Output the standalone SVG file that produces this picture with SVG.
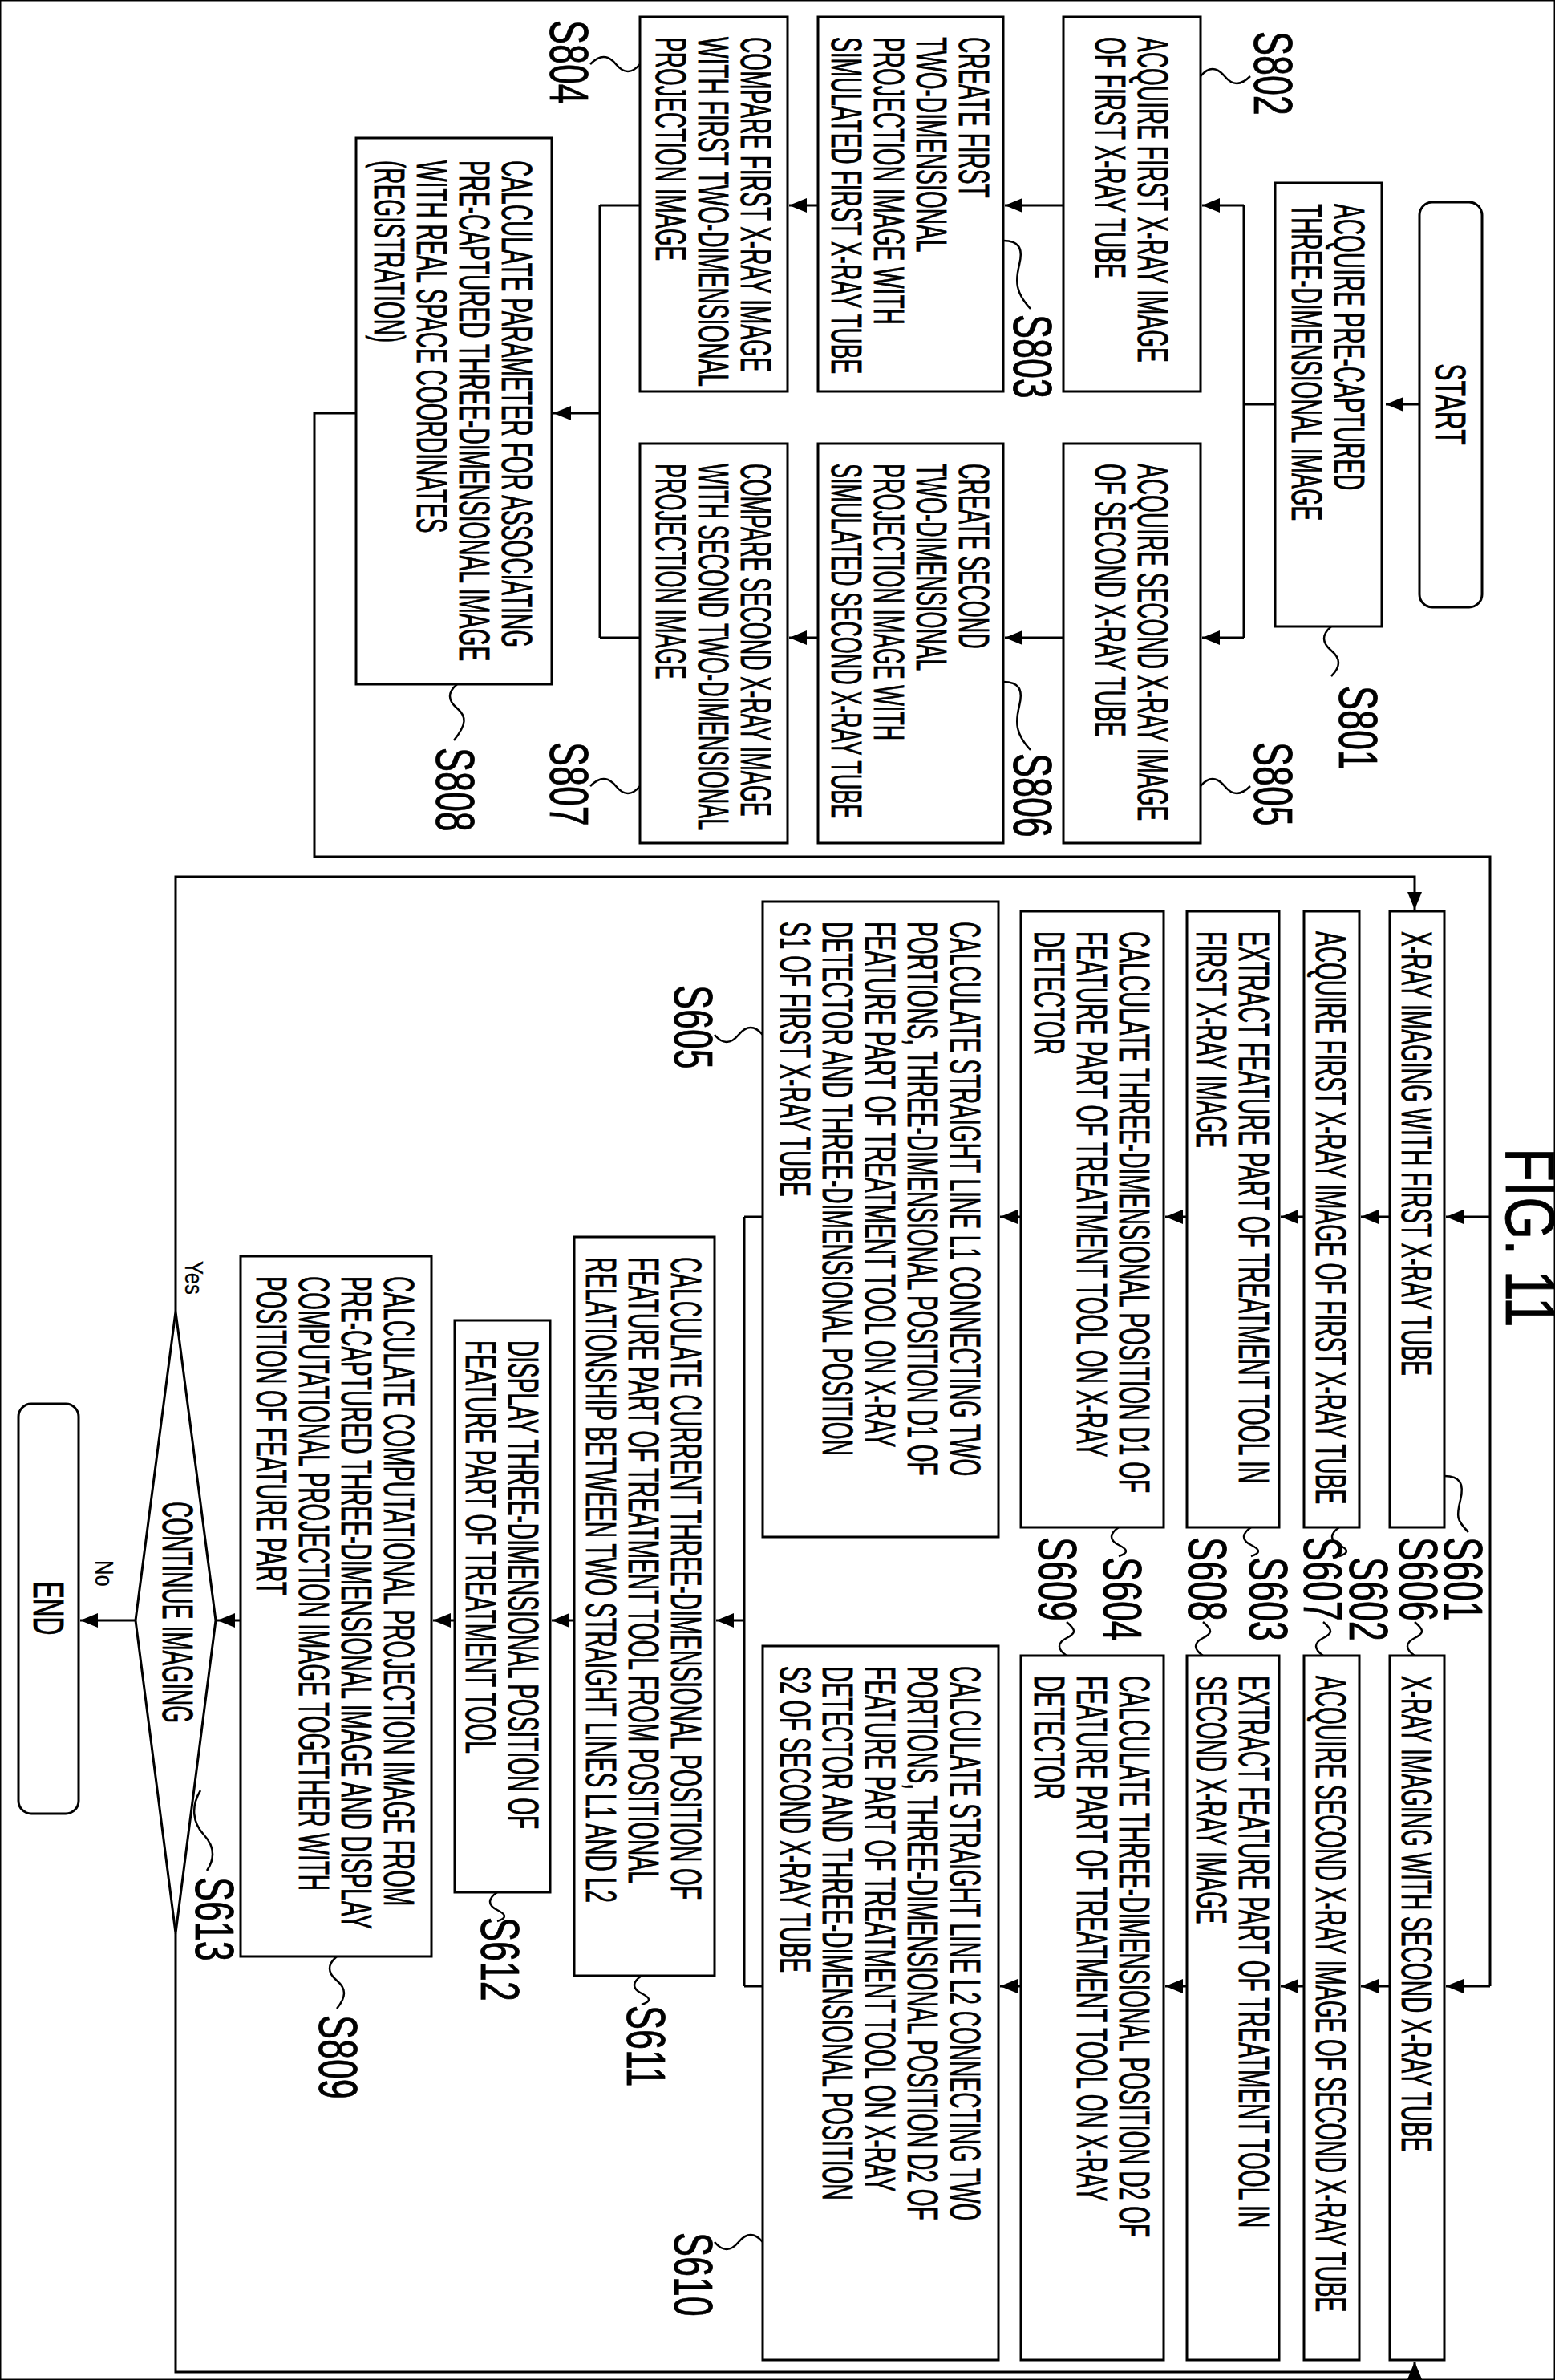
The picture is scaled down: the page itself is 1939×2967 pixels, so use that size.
<svg xmlns="http://www.w3.org/2000/svg" width="1939" height="2967" viewBox="0 0 1939 2967">
<defs>
<marker id="ah" markerUnits="userSpaceOnUse" markerWidth="24" markerHeight="18" refX="22" refY="9" orient="auto"><path d="M0,0 L22,9 L0,18 Z" fill="#000"/></marker>
<style>
rect,polygon{fill:#fff;stroke:#000;stroke-width:3}
.c{fill:none;stroke:#000;stroke-width:3}
.a{fill:none;stroke:#000;stroke-width:3;marker-end:url(#ah)}
.sq{fill:none;stroke:#000;stroke-width:2.5}
text{font-family:"Liberation Sans",Arial,sans-serif;font-size:53px;fill:#000;stroke:#000;stroke-width:0.8}
.l{font-size:68px}
.f{font-size:88px}
.s{font-size:32px;stroke-width:0.3}
.m{text-anchor:middle}
</style>
</defs>
<rect width="1939" height="2967" fill="#fff" stroke="none"/>
<g id="connectors">
<path class="a" d="M1776,504 H1728"/>
<path class="c" d="M1595,504 H1551 M1551,256 V795"/>
<path class="a" d="M1551,256 H1499"/>
<path class="a" d="M1551,795 H1499"/>
<path class="a" d="M1326,256 H1253"/>
<path class="a" d="M1326,795 H1253"/>
<path class="a" d="M1020,256 H984"/>
<path class="a" d="M1020,795 H984"/>
<path class="c" d="M798,256 H748 M798,795 H748 M748,256 V795"/>
<path class="a" d="M748,515 H690"/>
<path class="c" d="M444,515 H392 V1068 H1858 V2476"/>
<path class="a" d="M1858,1517 H1803"/>
<path class="a" d="M1858,2476 H1803"/>
<path class="a" d="M1733,1517 H1697"/>
<path class="a" d="M1733,2476 H1697"/>
<path class="a" d="M1626,1517 H1597"/>
<path class="a" d="M1626,2476 H1597"/>
<path class="a" d="M1480,1517 H1453"/>
<path class="a" d="M1480,2476 H1453"/>
<path class="a" d="M1273,1517 H1247"/>
<path class="a" d="M1273,2476 H1247"/>
<path class="c" d="M951,1517 H928 M951,2476 H928 M928,1517 V2476"/>
<path class="a" d="M928,2020 H893"/>
<path class="a" d="M716,2020 H688"/>
<path class="a" d="M567,2020 H540"/>
<path class="a" d="M300,2020 H271"/>
<path class="a" d="M169,2020 H100"/>
<path class="a" d="M219,1635 V1093 H1764 V1134"/>
<path class="a" d="M219,2410 V2957 H1764 V2944"/>
<path class="sq" d="M1660,781 c-12,10 -12,20 0,30 s12,20 0,32"/>
<path class="sq" d="M1497,95 c10,-12 20,-12 30,0 s20,12 32,0"/>
<path class="sq" d="M1497,980 c10,-12 20,-12 30,0 s20,12 32,0"/>
<path class="sq" d="M1251,300 c20,0 25,10 20,30 s-5,35 14,55"/>
<path class="sq" d="M1251,850 c20,0 25,10 20,30 s-5,35 14,55"/>
<path class="sq" d="M798,80 c-10,12 -20,12 -30,0 s-20,-12 -32,0"/>
<path class="sq" d="M798,980 c-10,12 -20,12 -30,0 s-20,-12 -32,0"/>
<path class="sq" d="M570,853 c-12,10 -12,20 0,30 s12,20 -4,40"/>
<path class="sq" d="M1801,1840 c20,0 25,10 20,30 s-5,25 10,40"/>
<path class="sq" d="M1764,2064 c-12,-8 -12,-16 0,-22 s12,-10 0,-20"/>
<path class="sq" d="M1670,1904 c-12,8 -12,16 0,22 s12,10 0,14"/>
<path class="sq" d="M1650,2064 c-12,-8 -12,-16 0,-22 s12,-10 0,-20"/>
<path class="sq" d="M1560,1904 c-12,8 -12,16 0,22 s12,10 0,14"/>
<path class="sq" d="M1500,2064 c-12,-8 -12,-16 0,-22 s12,-10 0,-20"/>
<path class="sq" d="M1395,1904 c-12,8 -12,16 0,22 s12,10 0,14"/>
<path class="sq" d="M1330,2064 c-12,-8 -12,-16 0,-22 s12,-10 0,-20"/>
<path class="sq" d="M951,1290 c-10,-12 -20,-12 -30,0 s-20,12 -30,0"/>
<path class="sq" d="M951,2795 c-10,-12 -20,-12 -30,0 s-20,12 -30,0"/>
<path class="sq" d="M800,2463 c-12,8 -12,16 0,22 s12,10 0,14"/>
<path class="sq" d="M620,2359 c-12,8 -12,16 0,22 s12,10 0,14"/>
<path class="sq" d="M420,2439 c-12,10 -12,20 0,30 s12,20 0,35"/>
<path class="sq" d="M250,2232 c-12,20 -10,40 4,55 s14,30 4,45"/>
</g>
<g id="START"><rect x="1770" y="252" width="78" height="505" rx="16"/><text class="m" transform="translate(1790,504) rotate(90) scale(0.6,1)">START</text></g>
<g id="S801"><rect x="1590" y="228" width="133" height="553"/>
<text transform="translate(1664,254) rotate(90) scale(0.53,1)">ACQUIRE PRE-CAPTURED</text>
<text transform="translate(1611,254) rotate(90) scale(0.53,1)">THREE-DIMENSIONAL IMAGE</text>
<text class="l" transform="translate(1670,855) rotate(90) scale(0.66,1)">S801</text></g>
<g id="S802"><rect x="1326" y="21" width="171" height="467"/>
<text transform="translate(1419,46) rotate(90) scale(0.53,1)">ACQUIRE FIRST X-RAY IMAGE</text>
<text transform="translate(1366,46) rotate(90) scale(0.53,1)">OF FIRST X-RAY TUBE</text>
<text class="l" transform="translate(1564,39) rotate(90) scale(0.66,1)">S802</text></g>
<g id="S805"><rect x="1326" y="553" width="171" height="498"/>
<text transform="translate(1419,578) rotate(90) scale(0.53,1)">ACQUIRE SECOND X-RAY IMAGE</text>
<text transform="translate(1366,578) rotate(90) scale(0.53,1)">OF SECOND X-RAY TUBE</text>
<text class="l" transform="translate(1564,925) rotate(90) scale(0.66,1)">S805</text></g>
<g id="S803"><rect x="1020" y="21" width="231" height="467"/>
<text transform="translate(1196,46) rotate(90) scale(0.53,1)">CREATE FIRST</text>
<text transform="translate(1143,46) rotate(90) scale(0.53,1)">TWO-DIMENSIONAL</text>
<text transform="translate(1090,46) rotate(90) scale(0.53,1)">PROJECTION IMAGE WITH</text>
<text transform="translate(1037,46) rotate(90) scale(0.53,1)">SIMULATED FIRST X-RAY TUBE</text>
<text class="l" transform="translate(1264,392) rotate(90) scale(0.66,1)">S803</text></g>
<g id="S806"><rect x="1020" y="553" width="231" height="498"/>
<text transform="translate(1196,578) rotate(90) scale(0.51,1)">CREATE SECOND</text>
<text transform="translate(1143,578) rotate(90) scale(0.51,1)">TWO-DIMENSIONAL</text>
<text transform="translate(1090,578) rotate(90) scale(0.51,1)">PROJECTION IMAGE WITH</text>
<text transform="translate(1037,578) rotate(90) scale(0.51,1)">SIMULATED SECOND X-RAY TUBE</text>
<text class="l" transform="translate(1264,939) rotate(90) scale(0.66,1)">S806</text></g>
<g id="S804"><rect x="798" y="21" width="184" height="467"/>
<text transform="translate(924,46) rotate(90) scale(0.53,1)">COMPARE FIRST X-RAY IMAGE</text>
<text transform="translate(871,46) rotate(90) scale(0.53,1)">WITH FIRST TWO-DIMENSIONAL</text>
<text transform="translate(818,46) rotate(90) scale(0.53,1)">PROJECTION IMAGE</text>
<text class="l" transform="translate(686,25) rotate(90) scale(0.66,1)">S804</text></g>
<g id="S807"><rect x="798" y="553" width="184" height="498"/>
<text transform="translate(924,578) rotate(90) scale(0.51,1)">COMPARE SECOND X-RAY IMAGE</text>
<text transform="translate(871,578) rotate(90) scale(0.51,1)">WITH SECOND TWO-DIMENSIONAL</text>
<text transform="translate(818,578) rotate(90) scale(0.51,1)">PROJECTION IMAGE</text>
<text class="l" transform="translate(686,925) rotate(90) scale(0.66,1)">S807</text></g>
<g id="S808"><rect x="444" y="172" width="244" height="681"/>
<text transform="translate(626,200) rotate(90) scale(0.53,1)">CALCULATE PARAMETER FOR ASSOCIATING</text>
<text transform="translate(573,200) rotate(90) scale(0.53,1)">PRE-CAPTURED THREE-DIMENSIONAL IMAGE</text>
<text transform="translate(520,200) rotate(90) scale(0.53,1)">WITH REAL SPACE COORDINATES</text>
<text transform="translate(467,200) rotate(90) scale(0.53,1)">(REGISTRATION)</text>
<text class="l" transform="translate(544,932) rotate(90) scale(0.66,1)">S808</text></g>
<g id="FIG"><text class="f" transform="translate(1878,1431) rotate(90) scale(0.78,1)">FIG. 11</text></g>
<g id="S601"><rect x="1733" y="1136" width="68" height="768"/>
<text transform="translate(1748,1161) rotate(90) scale(0.53,1)">X-RAY IMAGING WITH FIRST X-RAY TUBE</text>
<text class="l" transform="translate(1801,1916) rotate(90) scale(0.66,1)">S601</text></g>
<g id="S606"><rect x="1733" y="2064" width="68" height="878"/>
<text transform="translate(1748,2089) rotate(90) scale(0.53,1)">X-RAY IMAGING WITH SECOND X-RAY TUBE</text>
<text class="l" transform="translate(1745,1916) rotate(90) scale(0.66,1)">S606</text></g>
<g id="S602"><rect x="1626" y="1136" width="69" height="768"/>
<text transform="translate(1641,1161) rotate(90) scale(0.53,1)">ACQUIRE FIRST X-RAY IMAGE OF FIRST X-RAY TUBE</text>
<text class="l" transform="translate(1683,1941) rotate(90) scale(0.66,1)">S602</text></g>
<g id="S607"><rect x="1626" y="2064" width="69" height="878"/>
<text transform="translate(1641,2089) rotate(90) scale(0.53,1)">ACQUIRE SECOND X-RAY IMAGE OF SECOND X-RAY TUBE</text>
<text class="l" transform="translate(1626,1916) rotate(90) scale(0.66,1)">S607</text></g>
<g id="S603"><rect x="1480" y="1136" width="115" height="768"/>
<text transform="translate(1545,1161) rotate(90) scale(0.53,1)">EXTRACT FEATURE PART OF TREATMENT TOOL IN</text>
<text transform="translate(1492,1161) rotate(90) scale(0.53,1)">FIRST X-RAY IMAGE</text>
<text class="l" transform="translate(1558,1941) rotate(90) scale(0.66,1)">S603</text></g>
<g id="S608"><rect x="1480" y="2064" width="115" height="878"/>
<text transform="translate(1545,2089) rotate(90) scale(0.53,1)">EXTRACT FEATURE PART OF TREATMENT TOOL IN</text>
<text transform="translate(1492,2089) rotate(90) scale(0.53,1)">SECOND X-RAY IMAGE</text>
<text class="l" transform="translate(1482,1916) rotate(90) scale(0.66,1)">S608</text></g>
<g id="S604"><rect x="1273" y="1136" width="178" height="768"/>
<text transform="translate(1396,1161) rotate(90) scale(0.53,1)">CALCULATE THREE-DIMENSIONAL POSITION D1 OF</text>
<text transform="translate(1343,1161) rotate(90) scale(0.53,1)">FEATURE PART OF TREATMENT TOOL ON X-RAY</text>
<text transform="translate(1290,1161) rotate(90) scale(0.53,1)">DETECTOR</text>
<text class="l" transform="translate(1376,1941) rotate(90) scale(0.66,1)">S604</text></g>
<g id="S609"><rect x="1273" y="2064" width="178" height="878"/>
<text transform="translate(1396,2089) rotate(90) scale(0.53,1)">CALCULATE THREE-DIMENSIONAL POSITION D2 OF</text>
<text transform="translate(1343,2089) rotate(90) scale(0.53,1)">FEATURE PART OF TREATMENT TOOL ON X-RAY</text>
<text transform="translate(1290,2089) rotate(90) scale(0.53,1)">DETECTOR</text>
<text class="l" transform="translate(1295,1916) rotate(90) scale(0.66,1)">S609</text></g>
<g id="S605"><rect x="951" y="1124" width="294" height="792"/>
<text transform="translate(1185,1149) rotate(90) scale(0.53,1)">CALCULATE STRAIGHT LINE L1 CONNECTING TWO</text>
<text transform="translate(1132,1149) rotate(90) scale(0.53,1)">PORTIONS, THREE-DIMENSIONAL POSITION D1 OF</text>
<text transform="translate(1079,1149) rotate(90) scale(0.53,1)">FEATURE PART OF TREATMENT TOOL ON X-RAY</text>
<text transform="translate(1026,1149) rotate(90) scale(0.53,1)">DETECTOR AND THREE-DIMENSIONAL POSITION</text>
<text transform="translate(973,1149) rotate(90) scale(0.53,1)">S1 OF FIRST X-RAY TUBE</text>
<text class="l" transform="translate(841,1228) rotate(90) scale(0.66,1)">S605</text></g>
<g id="S610"><rect x="951" y="2052" width="294" height="890"/>
<text transform="translate(1185,2077) rotate(90) scale(0.53,1)">CALCULATE STRAIGHT LINE L2 CONNECTING TWO</text>
<text transform="translate(1132,2077) rotate(90) scale(0.53,1)">PORTIONS, THREE-DIMENSIONAL POSITION D2 OF</text>
<text transform="translate(1079,2077) rotate(90) scale(0.53,1)">FEATURE PART OF TREATMENT TOOL ON X-RAY</text>
<text transform="translate(1026,2077) rotate(90) scale(0.53,1)">DETECTOR AND THREE-DIMENSIONAL POSITION</text>
<text transform="translate(973,2077) rotate(90) scale(0.53,1)">S2 OF SECOND X-RAY TUBE</text>
<text class="l" transform="translate(841,2783) rotate(90) scale(0.66,1)">S610</text></g>
<g id="S611"><rect x="716" y="1542" width="175" height="921"/>
<text transform="translate(837,1567) rotate(90) scale(0.53,1)">CALCULATE CURRENT THREE-DIMENSIONAL POSITION OF</text>
<text transform="translate(784,1567) rotate(90) scale(0.53,1)">FEATURE PART OF TREATMENT TOOL FROM POSITIONAL</text>
<text transform="translate(731,1567) rotate(90) scale(0.53,1)">RELATIONSHIP BETWEEN TWO STRAIGHT LINES L1 AND L2</text>
<text class="l" transform="translate(782,2500) rotate(90) scale(0.66,1)">S611</text></g>
<g id="S612"><rect x="567" y="1646" width="119" height="713"/>
<text transform="translate(634,1671) rotate(90) scale(0.53,1)">DISPLAY THREE-DIMENSIONAL POSITION OF</text>
<text transform="translate(581,1671) rotate(90) scale(0.53,1)">FEATURE PART OF TREATMENT TOOL</text>
<text class="l" transform="translate(600,2390) rotate(90) scale(0.66,1)">S612</text></g>
<g id="S809"><rect x="300" y="1566" width="238" height="873"/>
<text transform="translate(479,1591) rotate(90) scale(0.53,1)">CALCULATE COMPUTATIONAL PROJECTION IMAGE FROM</text>
<text transform="translate(426,1591) rotate(90) scale(0.53,1)">PRE-CAPTURED THREE-DIMENSIONAL IMAGE AND DISPLAY</text>
<text transform="translate(373,1591) rotate(90) scale(0.53,1)">COMPUTATIONAL PROJECTION IMAGE TOGETHER WITH</text>
<text transform="translate(320,1591) rotate(90) scale(0.53,1)">POSITION OF FEATURE PART</text>
<text class="l" transform="translate(398,2512) rotate(90) scale(0.66,1)">S809</text></g>
<g id="S613"><polygon points="219,1635 269,2020 219,2410 169,2020"/>
<text class="m" transform="translate(203,2010) rotate(90) scale(0.53,1)">CONTINUE IMAGING</text>
<text class="l" transform="translate(244,2340) rotate(90) scale(0.66,1)">S613</text>
<text class="s" transform="translate(231,1572) rotate(90) scale(0.8,1)">Yes</text>
<text class="s" transform="translate(119,1945) rotate(90) scale(0.8,1)">No</text></g>
<g id="END"><rect x="23" y="1750" width="75" height="511" rx="16"/><text class="m" transform="translate(42,2005) rotate(90) scale(0.6,1)">END</text></g>
</svg>
